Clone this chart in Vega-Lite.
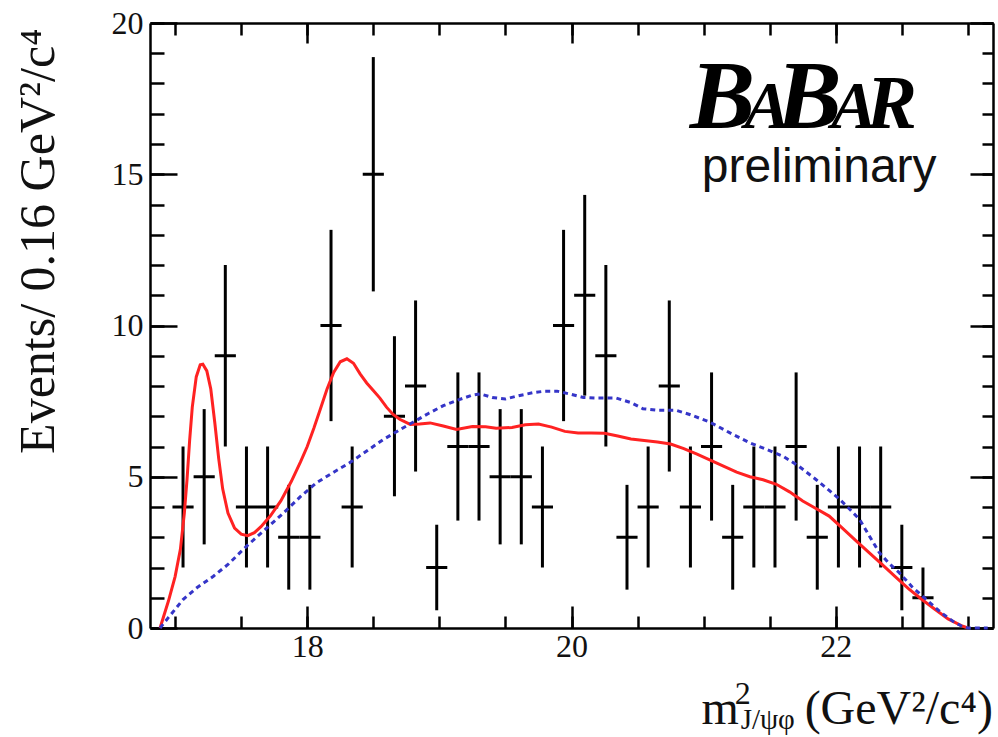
{
  "$schema": "https://vega.github.io/schema/vega-lite/v6.json",
  "width": 843,
  "height": 605,
  "autosize": {"type": "none"},
  "padding": {"left": 150, "top": 23, "right": 5, "bottom": 109},
  "background": "white",
  "config": {"view": {"stroke": null}},
  "datasets": {
    "points": [
      {"x": 17.06, "n": 4, "lo": 2, "hi": 6, "xlo": 16.98, "xhi": 17.14},
      {"x": 17.22, "n": 5, "lo": 2.764, "hi": 7.236, "xlo": 17.14, "xhi": 17.30},
      {"x": 17.38, "n": 9, "lo": 6, "hi": 12, "xlo": 17.30, "xhi": 17.46},
      {"x": 17.54, "n": 4, "lo": 2, "hi": 6, "xlo": 17.46, "xhi": 17.62},
      {"x": 17.70, "n": 4, "lo": 2, "hi": 6, "xlo": 17.62, "xhi": 17.78},
      {"x": 17.86, "n": 3, "lo": 1.268, "hi": 4.732, "xlo": 17.78, "xhi": 17.94},
      {"x": 18.02, "n": 3, "lo": 1.268, "hi": 4.732, "xlo": 17.94, "xhi": 18.10},
      {"x": 18.18, "n": 10, "lo": 6.838, "hi": 13.162, "xlo": 18.10, "xhi": 18.26},
      {"x": 18.34, "n": 4, "lo": 2, "hi": 6, "xlo": 18.26, "xhi": 18.42},
      {"x": 18.50, "n": 15, "lo": 11.127, "hi": 18.873, "xlo": 18.42, "xhi": 18.58},
      {"x": 18.66, "n": 7, "lo": 4.354, "hi": 9.646, "xlo": 18.58, "xhi": 18.74},
      {"x": 18.82, "n": 8, "lo": 5.172, "hi": 10.828, "xlo": 18.74, "xhi": 18.90},
      {"x": 18.98, "n": 2, "lo": 0.586, "hi": 3.414, "xlo": 18.90, "xhi": 19.06},
      {"x": 19.14, "n": 6, "lo": 3.551, "hi": 8.449, "xlo": 19.06, "xhi": 19.22},
      {"x": 19.30, "n": 6, "lo": 3.551, "hi": 8.449, "xlo": 19.22, "xhi": 19.38},
      {"x": 19.46, "n": 5, "lo": 2.764, "hi": 7.236, "xlo": 19.38, "xhi": 19.54},
      {"x": 19.62, "n": 5, "lo": 2.764, "hi": 7.236, "xlo": 19.54, "xhi": 19.70},
      {"x": 19.78, "n": 4, "lo": 2, "hi": 6, "xlo": 19.70, "xhi": 19.86},
      {"x": 19.94, "n": 10, "lo": 6.838, "hi": 13.162, "xlo": 19.86, "xhi": 20.02},
      {"x": 20.10, "n": 11, "lo": 7.683, "hi": 14.317, "xlo": 20.02, "xhi": 20.18},
      {"x": 20.26, "n": 9, "lo": 6, "hi": 12, "xlo": 20.18, "xhi": 20.34},
      {"x": 20.42, "n": 3, "lo": 1.268, "hi": 4.732, "xlo": 20.34, "xhi": 20.50},
      {"x": 20.58, "n": 4, "lo": 2, "hi": 6, "xlo": 20.50, "xhi": 20.66},
      {"x": 20.74, "n": 8, "lo": 5.172, "hi": 10.828, "xlo": 20.66, "xhi": 20.82},
      {"x": 20.90, "n": 4, "lo": 2, "hi": 6, "xlo": 20.82, "xhi": 20.98},
      {"x": 21.06, "n": 6, "lo": 3.551, "hi": 8.449, "xlo": 20.98, "xhi": 21.14},
      {"x": 21.22, "n": 3, "lo": 1.268, "hi": 4.732, "xlo": 21.14, "xhi": 21.30},
      {"x": 21.38, "n": 4, "lo": 2, "hi": 6, "xlo": 21.30, "xhi": 21.46},
      {"x": 21.54, "n": 4, "lo": 2, "hi": 6, "xlo": 21.46, "xhi": 21.62},
      {"x": 21.70, "n": 6, "lo": 3.551, "hi": 8.449, "xlo": 21.62, "xhi": 21.78},
      {"x": 21.86, "n": 3, "lo": 1.268, "hi": 4.732, "xlo": 21.78, "xhi": 21.94},
      {"x": 22.02, "n": 4, "lo": 2, "hi": 6, "xlo": 21.94, "xhi": 22.10},
      {"x": 22.18, "n": 4, "lo": 2, "hi": 6, "xlo": 22.10, "xhi": 22.26},
      {"x": 22.34, "n": 4, "lo": 2, "hi": 6, "xlo": 22.26, "xhi": 22.42},
      {"x": 22.50, "n": 2, "lo": 0.586, "hi": 3.414, "xlo": 22.42, "xhi": 22.58},
      {"x": 22.66, "n": 1, "lo": 0, "hi": 2, "xlo": 22.58, "xhi": 22.74}
    ],
    "red": [
      {"x": 16.886, "y": 0}, {"x": 16.95, "y": 0.9}, {"x": 17.0, "y": 1.7}, {"x": 17.04, "y": 2.6},
      {"x": 17.07, "y": 3.8}, {"x": 17.09, "y": 4.9}, {"x": 17.11, "y": 6.2}, {"x": 17.13, "y": 7.3},
      {"x": 17.16, "y": 8.3}, {"x": 17.19, "y": 8.7}, {"x": 17.21, "y": 8.72}, {"x": 17.24, "y": 8.5},
      {"x": 17.27, "y": 7.9}, {"x": 17.30, "y": 6.8}, {"x": 17.33, "y": 5.6}, {"x": 17.36, "y": 4.6},
      {"x": 17.40, "y": 3.8}, {"x": 17.45, "y": 3.3}, {"x": 17.50, "y": 3.1}, {"x": 17.55, "y": 3.05},
      {"x": 17.60, "y": 3.15}, {"x": 17.65, "y": 3.35}, {"x": 17.72, "y": 3.7}, {"x": 17.80, "y": 4.2},
      {"x": 17.88, "y": 4.85}, {"x": 17.95, "y": 5.5}, {"x": 18.00, "y": 6.0}, {"x": 18.05, "y": 6.6},
      {"x": 18.10, "y": 7.25}, {"x": 18.15, "y": 7.9}, {"x": 18.20, "y": 8.45}, {"x": 18.25, "y": 8.8},
      {"x": 18.30, "y": 8.9}, {"x": 18.35, "y": 8.75}, {"x": 18.40, "y": 8.4}, {"x": 18.45, "y": 8.1},
      {"x": 18.50, "y": 7.85}, {"x": 18.55, "y": 7.6}, {"x": 18.60, "y": 7.3}, {"x": 18.65, "y": 7.06},
      {"x": 18.70, "y": 6.9}, {"x": 18.78, "y": 6.73}, {"x": 18.85, "y": 6.74}, {"x": 18.93, "y": 6.78},
      {"x": 19.03, "y": 6.68}, {"x": 19.13, "y": 6.56}, {"x": 19.25, "y": 6.66}, {"x": 19.35, "y": 6.65},
      {"x": 19.43, "y": 6.6}, {"x": 19.55, "y": 6.63}, {"x": 19.65, "y": 6.72}, {"x": 19.75, "y": 6.74},
      {"x": 19.85, "y": 6.64}, {"x": 19.95, "y": 6.5}, {"x": 20.05, "y": 6.45}, {"x": 20.15, "y": 6.45},
      {"x": 20.25, "y": 6.44}, {"x": 20.35, "y": 6.35}, {"x": 20.45, "y": 6.25}, {"x": 20.55, "y": 6.2},
      {"x": 20.65, "y": 6.15}, {"x": 20.75, "y": 6.08}, {"x": 20.85, "y": 5.93}, {"x": 20.95, "y": 5.75},
      {"x": 21.05, "y": 5.55}, {"x": 21.15, "y": 5.35}, {"x": 21.25, "y": 5.15}, {"x": 21.35, "y": 5.0},
      {"x": 21.45, "y": 4.9}, {"x": 21.55, "y": 4.75}, {"x": 21.65, "y": 4.5}, {"x": 21.75, "y": 4.2},
      {"x": 21.85, "y": 3.95}, {"x": 21.95, "y": 3.7}, {"x": 22.05, "y": 3.3}, {"x": 22.15, "y": 2.9},
      {"x": 22.25, "y": 2.5}, {"x": 22.35, "y": 2.1}, {"x": 22.45, "y": 1.7}, {"x": 22.55, "y": 1.3},
      {"x": 22.65, "y": 0.95}, {"x": 22.75, "y": 0.62}, {"x": 22.85, "y": 0.3}, {"x": 22.95, "y": 0.08},
      {"x": 23.0, "y": 0}
    ],
    "blue": [
      {"x": 16.886, "y": 0}, {"x": 16.95, "y": 0.35}, {"x": 17.06, "y": 0.94}, {"x": 17.17, "y": 1.35},
      {"x": 17.29, "y": 1.71}, {"x": 17.40, "y": 2.1}, {"x": 17.54, "y": 2.7}, {"x": 17.68, "y": 3.25},
      {"x": 17.82, "y": 3.8}, {"x": 17.95, "y": 4.35}, {"x": 18.07, "y": 4.8}, {"x": 18.20, "y": 5.15},
      {"x": 18.32, "y": 5.46}, {"x": 18.45, "y": 5.85}, {"x": 18.575, "y": 6.23}, {"x": 18.70, "y": 6.55},
      {"x": 18.80, "y": 6.8}, {"x": 18.92, "y": 7.1}, {"x": 19.03, "y": 7.35}, {"x": 19.15, "y": 7.55},
      {"x": 19.25, "y": 7.7}, {"x": 19.31, "y": 7.74}, {"x": 19.40, "y": 7.62}, {"x": 19.50, "y": 7.57},
      {"x": 19.60, "y": 7.68}, {"x": 19.71, "y": 7.78}, {"x": 19.80, "y": 7.83}, {"x": 19.89, "y": 7.83},
      {"x": 20.00, "y": 7.72}, {"x": 20.09, "y": 7.62}, {"x": 20.20, "y": 7.6}, {"x": 20.34, "y": 7.6},
      {"x": 20.45, "y": 7.45}, {"x": 20.54, "y": 7.25}, {"x": 20.65, "y": 7.2}, {"x": 20.79, "y": 7.2},
      {"x": 20.90, "y": 7.05}, {"x": 21.05, "y": 6.8}, {"x": 21.20, "y": 6.45}, {"x": 21.35, "y": 6.12},
      {"x": 21.48, "y": 5.9}, {"x": 21.60, "y": 5.68}, {"x": 21.72, "y": 5.35}, {"x": 21.85, "y": 4.91},
      {"x": 21.95, "y": 4.55}, {"x": 22.03, "y": 4.25}, {"x": 22.10, "y": 3.95}, {"x": 22.18, "y": 3.59},
      {"x": 22.26, "y": 3.0}, {"x": 22.33, "y": 2.49}, {"x": 22.40, "y": 2.15}, {"x": 22.48, "y": 1.83},
      {"x": 22.58, "y": 1.35}, {"x": 22.685, "y": 0.94}, {"x": 22.80, "y": 0.5}, {"x": 22.90, "y": 0.18},
      {"x": 22.96, "y": 0.05}, {"x": 23.00, "y": 0}, {"x": 23.15, "y": 0}
    ]
  },
  "resolve": {"axis": {"x": "independent", "y": "independent"}},
  "layer": [
    {
      "data": {"name": "points"},
      "mark": {"type": "rule", "color": "black", "strokeWidth": 3},
      "encoding": {
        "x": {"field": "x", "type": "quantitative",
          "scale": {"domain": [16.81, 23.19], "nice": false, "zero": false},
          "axis": {"orient": "bottom", "values": [18, 20, 22], "format": "d", "tickSize": -22, "tickWidth": 2.5, "tickColor": "black",
            "domain": true, "domainWidth": 2.5, "domainColor": "black", "grid": false, "title": null,
            "labelFont": "Liberation Serif", "labelFontSize": 32, "labelColor": "#111", "labelPadding": 25}},
        "y": {"field": "lo", "type": "quantitative",
          "scale": {"domain": [0, 20], "nice": false, "zero": false},
          "axis": {"orient": "left", "values": [0, 5, 10, 15, 20], "format": "d", "tickSize": -27, "tickWidth": 2.5, "tickColor": "black",
            "domain": true, "domainWidth": 2.5, "domainColor": "black", "grid": false,
            "labelFont": "Liberation Serif", "labelFontSize": 32, "labelColor": "#111", "labelPadding": 34,
            "title": "Events/ 0.16 GeV²/c⁴", "titleFont": "Liberation Serif", "titleFontSize": 50, "titleFontWeight": "normal",
            "titleColor": "#111", "titleAngle": -90, "titleAlign": "right", "titleBaseline": "alphabetic", "titleX": -97, "titleY": 5}},
        "y2": {"field": "hi"}
      }
    },
    {
      "data": {"name": "points"},
      "mark": {"type": "rule", "color": "black", "strokeWidth": 3},
      "encoding": {
        "x": {"field": "xlo", "type": "quantitative",
          "axis": {"orient": "bottom", "values": [17, 17.5, 18, 18.5, 19, 19.5, 20, 20.5, 21, 21.5, 22, 22.5, 23], "tickSize": -12, "tickWidth": 2.5, "tickColor": "black",
            "domain": false, "grid": false, "labels": false, "title": null}},
        "x2": {"field": "xhi"},
        "y": {"field": "n", "type": "quantitative",
          "axis": {"orient": "left", "values": [0,1,2,3,4,5,6,7,8,9,10,11,12,13,14,15,16,17,18,19,20], "tickSize": -14, "tickWidth": 2.5, "tickColor": "black",
            "domain": false, "grid": false, "labels": false, "title": null}}
      }
    },
    {
      "data": {"name": "red"},
      "mark": {"type": "line", "color": "#f22", "strokeWidth": 3},
      "encoding": {
        "x": {"field": "x", "type": "quantitative",
          "axis": {"orient": "top", "values": [18, 20, 22], "tickSize": -20, "tickWidth": 2.5, "tickColor": "black",
            "domain": true, "domainWidth": 2.5, "domainColor": "black", "grid": false, "labels": false, "title": null}},
        "y": {"field": "y", "type": "quantitative",
          "axis": {"orient": "right", "values": [0, 5, 10, 15, 20], "tickSize": -23, "tickWidth": 2.5, "tickColor": "black",
            "domain": true, "domainWidth": 2.5, "domainColor": "black", "grid": false, "labels": false, "title": null}}
      }
    },
    {
      "data": {"name": "blue"},
      "mark": {"type": "line", "color": "#3535c8", "strokeWidth": 3, "strokeDash": [5, 4]},
      "encoding": {
        "x": {"field": "x", "type": "quantitative",
          "axis": {"orient": "top", "values": [17, 17.5, 18, 18.5, 19, 19.5, 20, 20.5, 21, 21.5, 22, 22.5, 23], "tickSize": -12, "tickWidth": 2.5, "tickColor": "black",
            "domain": false, "grid": false, "labels": false, "title": null}},
        "y": {"field": "y", "type": "quantitative",
          "axis": {"orient": "right", "values": [0,1,2,3,4,5,6,7,8,9,10,11,12,13,14,15,16,17,18,19,20], "tickSize": -11, "tickWidth": 2.5, "tickColor": "black",
            "domain": false, "grid": false, "labels": false, "title": null}}
      }
    },
    {
      "data": {"values": [{}]},
      "mark": {"type": "text", "text": "B", "font": "Liberation Serif", "fontSize": 98, "fontStyle": "italic", "fontWeight": "bold", "align": "left", "baseline": "alphabetic", "color": "black"},
      "encoding": {"x": {"datum": 20.895, "type": "quantitative", "axis": null}, "y": {"datum": 16.53, "type": "quantitative", "axis": null}}
    },
    {
      "data": {"values": [{}]},
      "mark": {"type": "text", "text": "A", "font": "Liberation Serif", "fontSize": 68, "fontStyle": "italic", "fontWeight": "bold", "align": "left", "baseline": "alphabetic", "color": "black"},
      "encoding": {"x": {"datum": 21.31, "type": "quantitative", "axis": null}, "y": {"datum": 16.53, "type": "quantitative", "axis": null}}
    },
    {
      "data": {"values": [{}]},
      "mark": {"type": "text", "text": "B", "font": "Liberation Serif", "fontSize": 98, "fontStyle": "italic", "fontWeight": "bold", "align": "left", "baseline": "alphabetic", "color": "black"},
      "encoding": {"x": {"datum": 21.55, "type": "quantitative", "axis": null}, "y": {"datum": 16.53, "type": "quantitative", "axis": null}}
    },
    {
      "data": {"values": [{}]},
      "mark": {"type": "text", "text": "A", "font": "Liberation Serif", "fontSize": 68, "fontStyle": "italic", "fontWeight": "bold", "align": "left", "baseline": "alphabetic", "color": "black"},
      "encoding": {"x": {"datum": 21.965, "type": "quantitative", "axis": null}, "y": {"datum": 16.53, "type": "quantitative", "axis": null}}
    },
    {
      "data": {"values": [{}]},
      "mark": {"type": "text", "text": "R", "font": "Liberation Serif", "fontSize": 76, "fontStyle": "italic", "fontWeight": "bold", "align": "left", "baseline": "alphabetic", "color": "black"},
      "encoding": {"x": {"datum": 22.23, "type": "quantitative", "axis": null}, "y": {"datum": 16.53, "type": "quantitative", "axis": null}}
    },
    {
      "data": {"values": [{}]},
      "mark": {"type": "text", "text": "preliminary", "font": "Liberation Sans", "fontSize": 48, "align": "right", "baseline": "alphabetic", "color": "#111"},
      "encoding": {"x": {"datum": 22.763, "type": "quantitative", "axis": null}, "y": {"datum": 14.76, "type": "quantitative", "axis": null}}
    },
    {
      "data": {"values": [{}]},
      "mark": {"type": "text", "text": "m", "font": "Liberation Serif", "fontSize": 48, "align": "left", "baseline": "alphabetic", "color": "#111"},
      "encoding": {"x": {"datum": 20.983, "type": "quantitative", "axis": null}, "y": {"datum": -3.18, "type": "quantitative", "axis": null}}
    },
    {
      "data": {"values": [{}]},
      "mark": {"type": "text", "text": "2", "font": "Liberation Serif", "fontSize": 32, "align": "left", "baseline": "alphabetic", "color": "#111"},
      "encoding": {"x": {"datum": 21.235, "type": "quantitative", "axis": null}, "y": {"datum": -2.52, "type": "quantitative", "axis": null}}
    },
    {
      "data": {"values": [{}]},
      "mark": {"type": "text", "text": "J/ψφ", "font": "Liberation Serif", "fontSize": 29, "align": "left", "baseline": "alphabetic", "color": "#111"},
      "encoding": {"x": {"datum": 21.28, "type": "quantitative", "axis": null}, "y": {"datum": -3.35, "type": "quantitative", "axis": null}}
    },
    {
      "data": {"values": [{}]},
      "mark": {"type": "text", "text": "(GeV²/c⁴)", "font": "Liberation Serif", "fontSize": 48, "align": "right", "baseline": "alphabetic", "color": "#111"},
      "encoding": {"x": {"datum": 23.19, "type": "quantitative", "axis": null}, "y": {"datum": -3.18, "type": "quantitative", "axis": null}}
    }
  ]
}
